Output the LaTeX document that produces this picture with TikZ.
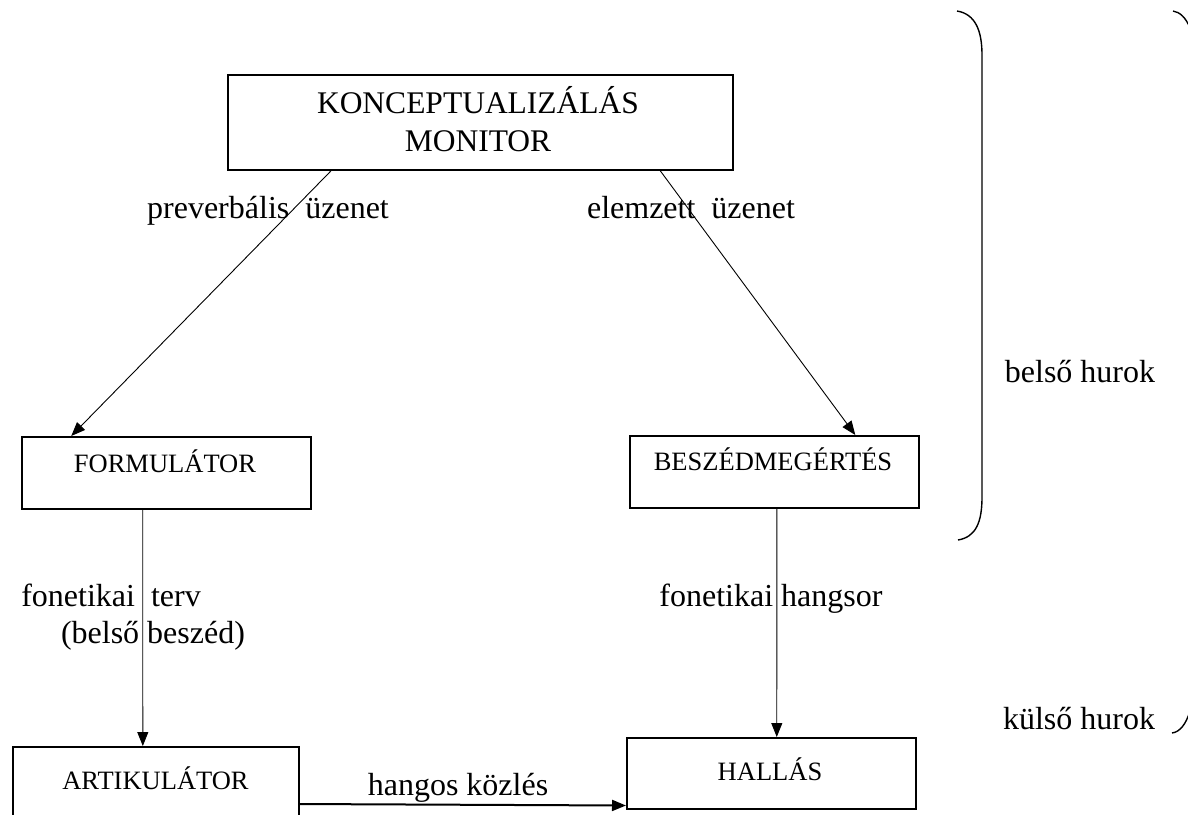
\documentclass[tikz,border=0pt]{standalone}
\usepackage{fontspec}
\setmainfont{Liberation Serif}
\usetikzlibrary{arrows.meta,calc}
\begin{document}
\begin{tikzpicture}[x=1pt,y=-1pt,
  box/.style={draw,line width=1.5pt,inner sep=0pt,anchor=north west},
  bigtxt/.style={font=\fontsize{31.5}{37}\selectfont,inner sep=0pt,text height=21pt,text depth=0pt},
  smalltxt/.style={font=\fontsize{26.5}{30}\selectfont,inner sep=0pt,text height=17.5pt,text depth=0pt},
  lbl/.style={font=\fontsize{32}{37}\selectfont,inner sep=0pt,text height=22.4pt,text depth=7pt},
  arr/.style={line width=0.9pt,-{Triangle[length=14pt,width=11pt]}},
  thickarr/.style={line width=2pt,-{Triangle[length=14pt,width=11pt]}},
  brace/.style={line width=1.4pt}]
\path[use as bounding box] (0,0) rectangle (1188,814);
\clip (0,0) rectangle (1188,814);
% boxes
\node[box,minimum width=505pt,minimum height=95pt] (konc) at (227,74) {};
\node[box,minimum width=289pt,minimum height=72pt] (form) at (21,436) {};
\node[box,minimum width=289pt,minimum height=72pt] (besz) at (629,435) {};
\node[box,minimum width=286pt,minimum height=95pt] (art) at (12,746) {};
\node[box,minimum width=289pt,minimum height=71pt] (hall) at (626,737) {};
% box texts
\node[bigtxt] (t1) at (478,103) {KONCEPTUALIZÁLÁS};
\node[bigtxt] (t2) at (478,141) {MONITOR};
\node[smalltxt] (tf) at (165,463.5) {FORMULÁTOR};
\node[smalltxt] (tb) at (773,462) {BESZÉDMEGÉRTÉS};
\node[smalltxt] (ta) at (155.5,781) {ARTIKULÁTOR};
\node[smalltxt] (th) at (770,772) {HALLÁS};
% connectors
\draw[arr] ($(konc.south west)!0.206!(konc.south east)$) -- ($(form.north west)!0.173!(form.north east)$);
\draw[arr] ($(konc.south west)!0.855!(konc.south east)$) -- ($(besz.north west)!0.779!(besz.north east)$);
\draw[arr] ($(form.south west)!0.419!(form.south east)$) -- ($(art.north west)!0.455!(art.north east)$);
\draw[arr] ($(besz.south west)!0.509!(besz.south east)$) -- ($(hall.north west)!0.519!(hall.north east)$);
\draw[thickarr] ($(art.north east)+(0,58)$) -- ($(hall.south west)+(0,-4)$);
% labels
\node[lbl] (l1) at (268,211) {preverbális\ \ üzenet};
\node[lbl] (l2) at (691,211) {elemzett\ \ üzenet};
\node[lbl] (l3) at (111,599) {fonetikai\ \ terv};
\node[lbl] (l4) at (153,636) {(belső beszéd)};
\node[lbl] (l5) at (771,599) {fonetikai hangsor};
\node[lbl] (l6) at (458,788) {hangos közlés};
\node[lbl] (l7) at (1080,375) {belső hurok};
\node[lbl] (l8) at (1079,722) {külső hurok};
% brackets
\draw[brace] (957,11) .. controls (975,14) and (982,30) .. (982,55) -- (982,497) .. controls (982,522) and (976,537) .. (958,540);
\draw[brace] (1173,11) .. controls (1180,12) and (1186,18) .. (1190,28);
\draw[brace] (1172,733) .. controls (1180,732) and (1186,724) .. (1190,711);
\end{tikzpicture}
\end{document}
